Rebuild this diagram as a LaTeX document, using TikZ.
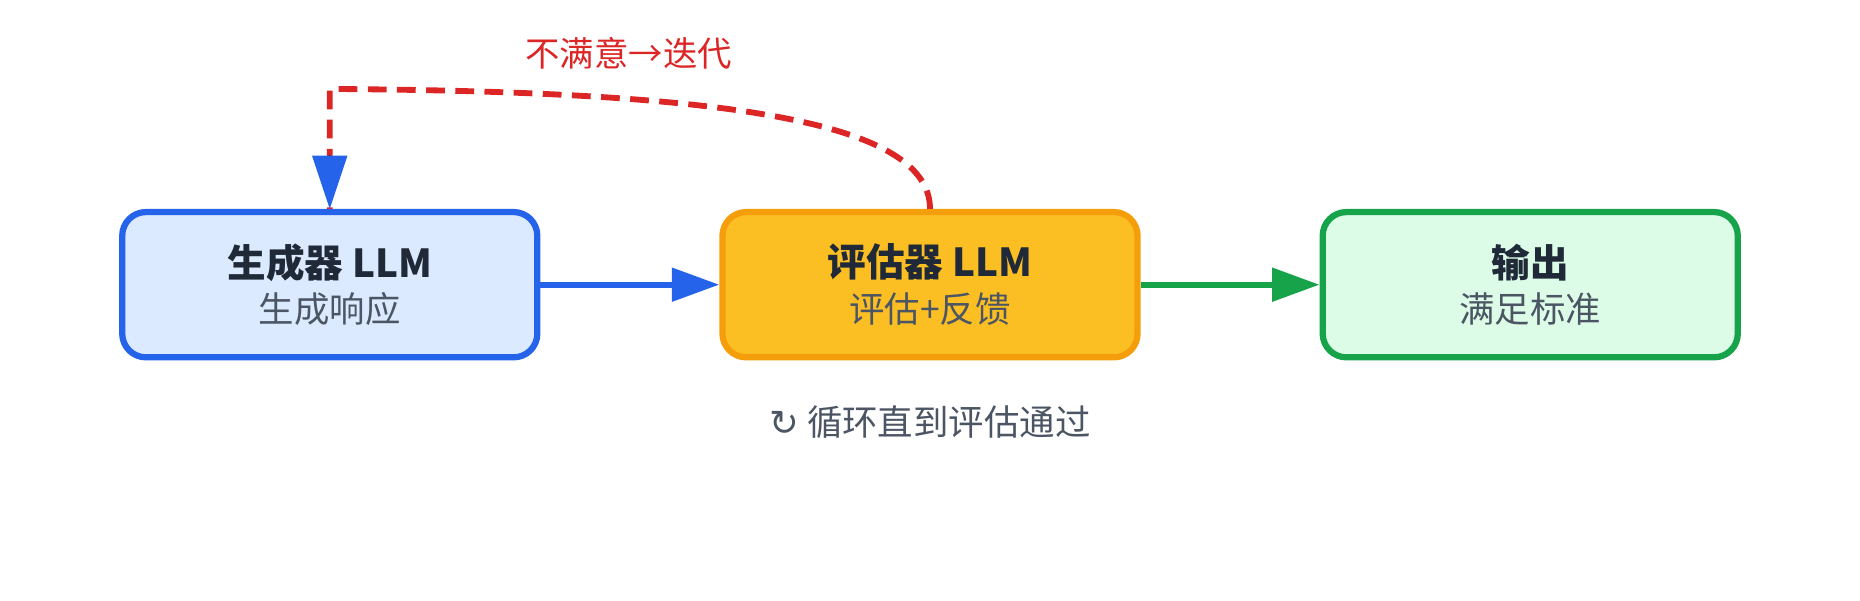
\documentclass[tikz,border=0pt]{standalone}
\usepackage{fontspec}
\setmainfont{Noto Sans CJK SC}
\usetikzlibrary{arrows.meta}
\definecolor{bl}{HTML}{2563EB}\definecolor{blf}{HTML}{DBEAFE}
\definecolor{org}{HTML}{F59E0B}\definecolor{orf}{HTML}{FBBF24}
\definecolor{gr}{HTML}{16A34A}\definecolor{grf}{HTML}{DCFCE7}
\definecolor{rd}{HTML}{DC2626}\definecolor{tx}{HTML}{1F2937}\definecolor{gy}{HTML}{4B5563}
\begin{document}
\begin{tikzpicture}[x=0.02cm,y=-0.02cm,
 box/.style={draw,line width=3pt,rounded corners=0.4cm,minimum width=7.0cm,minimum height=2.45cm,align=center,text=tx,font=\fontsize{17}{24}\selectfont},
 arr/.style={line width=3pt,-{Triangle[length=0.8cm,width=0.55cm]}}]
\useasboundingbox (0,0) rectangle (1568,506);
\node[box,draw=bl,fill=blf] (g) at (278,240) {{\fontsize{18.5}{24}\selectfont\textbf{生成器 LLM}}\\[-2pt]{\color{gy}生成响应}};
\node[box,draw=org,fill=orf] (e) at (784,240) {{\fontsize{18.5}{24}\selectfont\textbf{评估器 LLM}}\\[-2pt]{\color{gy}评估+反馈}};
\node[box,draw=gr,fill=grf] (o) at (1290,240) {{\fontsize{18.5}{24}\selectfont\textbf{输出}}\\[-2pt]{\color{gy}满足标准}};
\draw[arr,bl] (g) -- (e);
\draw[arr,gr] (e) -- (o);
\coordinate (c) at (278,75);
\draw[rd,line width=2.8pt,dash pattern=on 9pt off 5pt] (e.north) .. controls (784,100) and (600,77) .. (c) -- (g.north);
\draw[line width=0pt,-{Triangle[length=0.9cm,width=0.6cm,color=bl,fill=bl]}] (278,140) -- (g.north);
\node[rd,font=\fontsize{16.5}{20}\selectfont] (l) at (530,45) {不满意→迭代};
\node[gy,font=\fontsize{17}{20}\selectfont] (b) at (784,356) {{\setmainfont{DejaVu Sans}\selectfont ↻} 循环直到评估通过};
\end{tikzpicture}
\end{document}
